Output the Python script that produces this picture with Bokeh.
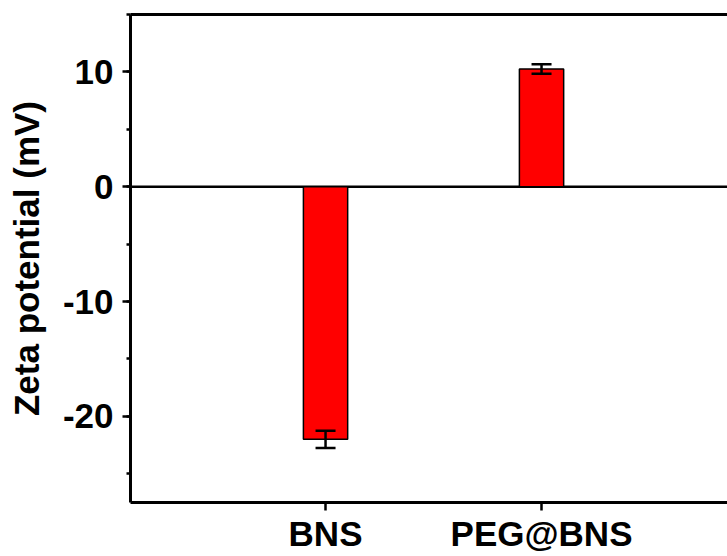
from bokeh.plotting import figure
from bokeh.models import (Range1d, FixedTicker, SingleIntervalTicker, LinearAxis,
                          ColumnDataSource, Whisker, TeeHead, Span, NumeralTickFormatter)
from bokeh.embed import file_html
from bokeh.resources import INLINE

# ---- data ----
categories = ["BNS", "PEG@BNS"]
zeta = [-22.0, 10.25]
zeta_err = [0.75, 0.42]

xs = [i + 1 for i in range(len(categories))]
upper = [v + e for v, e in zip(zeta, zeta_err)]
lower = [v - e for v, e in zip(zeta, zeta_err)]
src = ColumnDataSource(dict(x=xs, top=zeta, upper=upper, lower=lower))

FONT = "Liberation Sans"
LW = 3

p = figure(width=727, height=556, output_backend="svg", toolbar_location=None,
           x_range=Range1d(0.097, 2.861), y_range=Range1d(-27.5, 15),
           min_border_left=130, min_border_right=0, min_border_top=14,
           min_border_bottom=54, background_fill_color="white",
           border_fill_color="white")
p.outline_line_color = None
p.xgrid.visible = False
p.ygrid.visible = False

p.add_layout(Span(location=0, dimension="width", line_color="black",
                  line_width=2.5, level="underlay"))

p.vbar(x="x", top="top", bottom=0, width=0.205, source=src,
       fill_color="#ff0000", line_color="black", line_width=1.5)

w = Whisker(base="x", upper="upper", lower="lower", source=src,
            line_color="black", line_width=2.5, level="overlay",
            upper_head=TeeHead(size=20, line_width=2.5, line_color="black"),
            lower_head=TeeHead(size=20, line_width=2.5, line_color="black"))
p.add_layout(w)

# x axis
xa = p.xaxis[0]
xa.ticker = FixedTicker(ticks=xs)
xa.major_label_overrides = {x: c for x, c in zip(xs, categories)}
xa.minor_tick_line_color = None

# y axis
ya = p.yaxis[0]
ya.ticker = SingleIntervalTicker(interval=10, num_minor_ticks=2)
ya.formatter = NumeralTickFormatter(format="0")
ya.axis_label = "Zeta potential (mV)"
ya.axis_label_standoff = 14
ya.minor_tick_out = 4
ya.minor_tick_in = 0
ya.minor_tick_line_width = 2.5
ya.minor_tick_line_color = "black"

for ax in (xa, ya):
    ax.axis_line_width = LW
    ax.axis_line_color = "black"
    ax.major_tick_out = 8
    ax.major_tick_in = 0
    ax.major_tick_line_width = 2.5
    ax.major_tick_line_color = "black"
    ax.major_label_text_font = FONT
    ax.major_label_text_font_style = "bold"
    ax.major_label_text_font_size = "35px"
    ax.major_label_text_color = "black"
    ax.axis_label_text_font = FONT
    ax.axis_label_text_font_style = "bold"
    ax.axis_label_text_font_size = "35px"
    ax.axis_label_text_color = "black"
xa.major_label_standoff = 3
ya.major_label_standoff = 9

# top border line
top = LinearAxis(ticker=FixedTicker(ticks=[]), major_label_text_font_size="0px",
                 major_tick_out=0, major_tick_in=0, minor_tick_out=0,
                 minor_tick_in=0, major_label_standoff=0,
                 axis_line_width=LW, axis_line_color="black")
p.add_layout(top, "above")

open("out.html", "w").write(file_html(p, INLINE))
